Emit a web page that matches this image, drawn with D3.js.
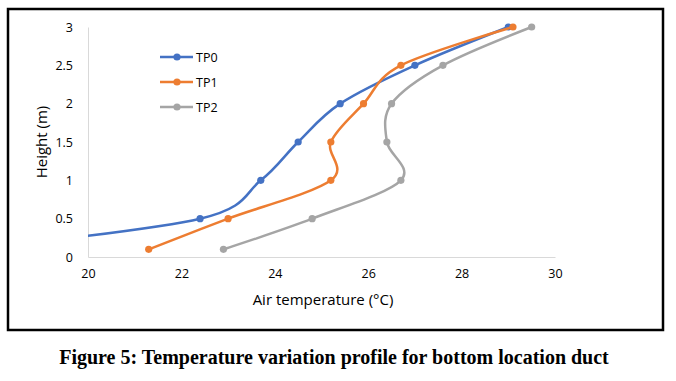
<!DOCTYPE html>
<html><head><meta charset="utf-8">
<script src="https://cdn.jsdelivr.net/npm/d3@7"></script>
<style>body{margin:0;background:#fff}svg{display:block}</style>
</head><body>
<svg id="c" width="676" height="381"></svg>
<script>
const heights = [3, 2.5, 2, 1.5, 1, 0.5, 0.1];
const tp0 = [29.0, 27.0, 25.4, 24.5, 23.7, 22.4, 17.5];
const tp1 = [29.1, 26.7, 25.9, 25.2, 25.2, 23.0, 21.3];
const tp2 = [29.5, 27.6, 26.5, 26.4, 26.7, 24.8, 22.9];
const seriesNames = ["TP0", "TP1", "TP2"];
const colors = ["#4472C4", "#ED7D31", "#A5A5A5"];
const xTicks = [20, 22, 24, 26, 28, 30];
const yTicks = [0, 0.5, 1, 1.5, 2, 2.5, 3];

const svg = d3.select("#c");
const font = "'Open Sans', sans-serif";
const x = d3.scaleLinear().domain([20, 30]).range([88, 555]);
const y = d3.scaleLinear().domain([0, 3]).range([257, 27]);

svg.append("rect").attr("x", 8).attr("y", 9).attr("width", 655).attr("height", 321)
  .attr("fill", "#fff").attr("stroke", "#000").attr("stroke-width", 2.5);

svg.append("defs").append("clipPath").attr("id", "clip").append("rect")
  .attr("x", 88).attr("y", 10).attr("width", 480).attr("height", 260);

// axes
const xAxis = svg.append("g").attr("transform", "translate(0,257)")
  .call(d3.axisBottom(x).tickValues(xTicks).tickSize(0).tickPadding(12));
const yAxis = svg.append("g").attr("transform", "translate(88,0)")
  .call(d3.axisLeft(y).tickValues(yTicks).tickSize(0).tickPadding(15).tickFormat(d3.format("")));
[xAxis, yAxis].forEach(a => {
  a.select(".domain").attr("stroke", "#d9d9d9").attr("stroke-width", 1);
  a.selectAll("text").attr("font-family", font).attr("font-size", 12.5).attr("fill", "#000");
});

svg.append("text").attr("x", 323).attr("y", 305).attr("text-anchor", "middle")
  .attr("font-family", font).attr("font-size", 15).text("Air temperature (°C)");
svg.append("text").attr("transform", "translate(47,142) rotate(-90)").attr("text-anchor", "middle")
  .attr("font-family", font).attr("font-size", 15).text("Height (m)");

const allSeries = [tp0, tp1, tp2];
const line = d3.line().x(d => x(d[0])).y(d => y(d[1])).curve(d3.curveCardinal.tension(0));
const plot = svg.append("g").attr("clip-path", "url(#clip)");
allSeries.forEach((s, i) => {
  const pts = s.map((t, k) => [t, heights[k]]);
  plot.append("path").datum(pts).attr("d", line).attr("fill", "none")
    .attr("stroke", colors[i]).attr("stroke-width", 2.5);
  plot.selectAll(null).data(pts).enter().append("circle")
    .attr("cx", d => x(d[0])).attr("cy", d => y(d[1])).attr("r", 3.6).attr("fill", colors[i]);
});

// legend
const lg = svg.append("g");
seriesNames.forEach((n, i) => {
  const yy = 57 + i * 25;
  lg.append("line").attr("x1", 160).attr("x2", 193).attr("y1", yy).attr("y2", yy)
    .attr("stroke", colors[i]).attr("stroke-width", 2.5);
  lg.append("circle").attr("cx", 177).attr("cy", yy).attr("r", 3.6).attr("fill", colors[i]);
  lg.append("text").attr("x", 196).attr("y", yy + 4.5).attr("font-family", font)
    .attr("font-size", 12.5).text(n);
});

svg.append("text").attr("x", 334).attr("y", 364).attr("text-anchor", "middle")
  .attr("font-family", "'Liberation Serif', 'Times New Roman', serif").attr("font-weight", "bold")
  .attr("font-size", 20).text("Figure 5: Temperature variation profile for bottom location duct");
</script>
</body></html>
